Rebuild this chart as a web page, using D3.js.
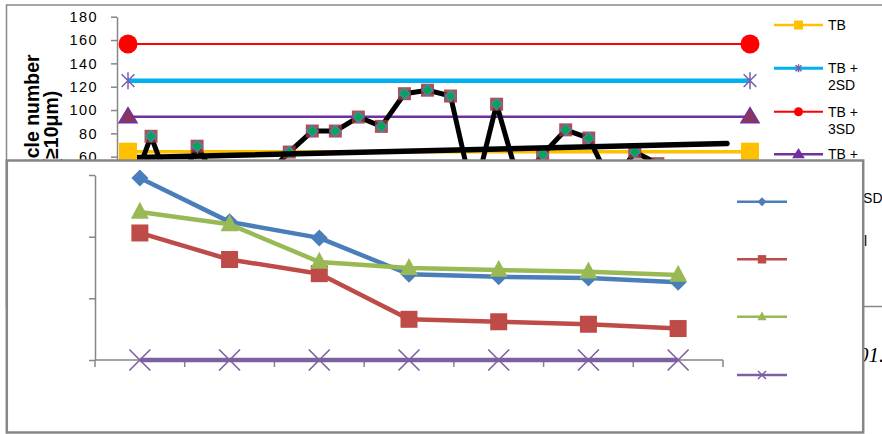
<!DOCTYPE html>
<html><head><meta charset="utf-8">
<script src="https://cdn.jsdelivr.net/npm/d3@7"></script>
<style>body{margin:0;background:#fff}svg{display:block}</style>
</head><body>
<svg id="c" width="882" height="434"></svg>
<script>
// ---- background control chart ----
const bgCategories = [1,2,3,4,5,6,7,8,9,10,11,12,13,14,15,16,17,18,19,20,21,22,23,24,25,26,27,28];
const particleCounts = [25,77.5,25,69,35,35,44,64,82,82,94,86,114,117,112,25,105,36,62,83,76,36,64,54,45,50,40];
const limitNames = ["TB","TB + 2SD","TB + 3SD","TB + 1SD"];
const limitValues = [64.3,125.2,156.6,94.3];
const trendIndex = [0,26];
const trendValues = [59,71.3];
const bgTicks = [0,20,40,60,80,100,120,140,160,180];
const bgTitle = ["Particle number","(≥10μm)"];
const legendLabels = [["TB"],["TB +","2SD"],["TB +","3SD"],["TB +","1SD"],["TB - 1SD"],["Control"]];
const pageText = "01.";

// ---- foreground chart ----
const fgCategories = ["1","2","3","4","5","6","7"];
const seriesBlue = [2.95,2.24,1.98,1.39,1.35,1.33,1.26];
const seriesRed = [2.06,1.63,1.40,0.66,0.62,0.58,0.51];
const seriesGreen = [2.40,2.20,1.59,1.49,1.46,1.43,1.38];
const seriesPurple = [0,0,0,0,0,0,0];
const fgTicks = [0,1,2,3];

const font = "'Liberation Sans', Arial, sans-serif";
const svg = d3.select("#c");
const gray = "#868686";

// shapes
const diamond = r => `M0,${-r}L${r},0L0,${r}L${-r},0Z`;
const square = r => `M${-r},${-r}H${r}V${r}H${-r}Z`;
const triangle = (w,h) => `M0,${-h*0.6}L${w/2},${h*0.4}L${-w/2},${h*0.4}Z`;
const cross = r => `M${-r},${-r}L${r},${r}M${-r},${r}L${r},${-r}`;
const star = r => `M0,${-r}V${r}M${-r*0.75},${-r*0.75}L${r*0.75},${r*0.75}M${-r*0.75},${r*0.75}L${r*0.75},${-r*0.75}`;

// background frame
svg.append("rect").attr("x",6.5).attr("y",5).attr("width",900).attr("height",301.5)
  .attr("fill","#fff").attr("stroke","#888").attr("stroke-width",1.5);

const xb = d3.scalePoint().domain(bgCategories).range([128,750]);
const yb = d3.scaleLinear().domain([0,180]).range([226.7,16.7]);

const bgAxis = svg.append("g").attr("transform","translate(117,0)")
  .call(d3.axisLeft(yb).tickValues(bgTicks).tickSize(6).tickSizeOuter(0).tickPadding(13));
bgAxis.select(".domain").attr("stroke",gray).attr("stroke-width",1.5);
bgAxis.selectAll(".tick line").attr("stroke",gray).attr("stroke-width",1.5);
bgAxis.selectAll(".tick text").attr("font-family",font).attr("font-size",14.5)
  .attr("fill","#000").attr("letter-spacing",1.4);

const title = svg.append("text").attr("transform","translate(39,128) rotate(-90)")
  .attr("text-anchor","middle").attr("font-family",font).attr("font-weight","bold").attr("font-size",19.5);
bgTitle.forEach((t,i)=>title.append("tspan").attr("x",0).attr("dy",i?19:0).text(t));

// limit lines
const limitColors = ["#ffc000","#00b0f0","#ff0000","#7030a0"];
const limitWidths = [3.5,4.5,2,2.5];
const first = bgCategories[0], last = bgCategories[bgCategories.length-1];
limitValues.forEach((v,i)=>{
  svg.append("line").attr("x1",xb(first)).attr("x2",xb(last)).attr("y1",yb(v)).attr("y2",yb(v))
    .attr("stroke",limitColors[i]).attr("stroke-width",limitWidths[i]);
});

// data line
const dataLine = d3.line().x((d,i)=>xb(bgCategories[i])).y(d=>yb(d));
svg.append("path").datum(particleCounts).attr("d",dataLine).attr("fill","none")
  .attr("stroke","#000").attr("stroke-width",5).attr("stroke-linejoin","round");
const pts = svg.append("g").selectAll("g").data(particleCounts).join("g")
  .attr("transform",(d,i)=>`translate(${xb(bgCategories[i])},${yb(d)})`);
pts.append("path").attr("d",square(6.5)).attr("fill","#953735").attr("fill-opacity",0.85);
pts.append("path").attr("d",diamond(5.5)).attr("fill","#00a651").attr("stroke","#4f81bd").attr("stroke-width",1.2);

// trend line
svg.append("line")
  .attr("x1",xb(bgCategories[trendIndex[0]])).attr("y1",yb(trendValues[0]))
  .attr("x2",xb(bgCategories[trendIndex[1]])).attr("y2",yb(trendValues[1]))
  .attr("stroke","#000").attr("stroke-width",5.5).attr("stroke-linecap","round");

// end markers
function limitMarker(g,i,big){
  if(i===0) g.append("path").attr("d",square(big?9:4.5)).attr("fill","#ffc000");
  if(i===1) g.append("path").attr("d",star(big?8.5:4)).attr("stroke","#7b5ea8").attr("stroke-width",1.5).attr("fill","none");
  if(i===2) g.append("circle").attr("r",big?9.5:4.5).attr("fill","#ff0000");
  if(i===3) g.append("path").attr("d",triangle(big?18:10,big?15:8)).attr("fill",big?"#8a3560":"#7030a0").attr("stroke","#7030a0").attr("stroke-width",1.5);
}
limitValues.forEach((v,i)=>{
  [first,last].forEach(c=>{
    const g = svg.append("g").attr("transform",`translate(${xb(c)},${yb(v)})`);
    limitMarker(g,i,true);
  });
});

// background legend
const legY = [25,68.3,111.7,154.3,197.5,240.5];
const legX = [828,828,828,828,825,822];
const legColors = ["#ffc000","#00b0f0","#ff0000","#7030a0","#7030a0","#000"];
const legWidths = [2.5,3,2,2.5,2.5,3];
legendLabels.forEach((lab,i)=>{
  const y = legY[i];
  svg.append("line").attr("x1",774).attr("x2",823).attr("y1",y).attr("y2",y)
    .attr("stroke",legColors[i]).attr("stroke-width",legWidths[i]);
  if(i<4){ const g = svg.append("g").attr("transform",`translate(798.5,${y})`); limitMarker(g,i,false); }
  const t = svg.append("text").attr("x",legX[i]).attr("y",y+5).attr("font-family",font).attr("font-size",14).attr("fill","#000");
  lab.forEach((s,j)=>t.append("tspan").attr("x",legX[i]).attr("dy",j?17:0).text(s));
});

// page text behind
svg.append("text").attr("x",858).attr("y",362).attr("font-family","'Liberation Serif','Times New Roman',serif")
  .attr("font-style","italic").attr("font-size",21).attr("fill","#000").text(pageText);

// ---- foreground chart box ----
svg.append("rect").attr("x",6.8).attr("y",160.5).attr("width",856.4).attr("height",272)
  .attr("fill","#fff").attr("stroke",gray).attr("stroke-width",2.5);

const xf = d3.scaleBand().domain(fgCategories).range([95,723]);
const yf = d3.scaleLinear().domain([0,3]).range([360,175]);
const cx = c => xf(c)+xf.bandwidth()/2;

const fAxis = svg.append("g").attr("transform","translate(95,0)")
  .call(d3.axisLeft(yf).tickValues(fgTicks).tickFormat(()=>"").tickSize(6).tickSizeOuter(0));
fAxis.select(".domain").attr("stroke",gray).attr("stroke-width",1.5);
fAxis.selectAll(".tick line").attr("stroke",gray).attr("stroke-width",1.5);

const xAxisG = svg.append("g");
xAxisG.append("line").attr("x1",xf.range()[0]).attr("x2",xf.range()[1]).attr("y1",yf(0)).attr("y2",yf(0))
  .attr("stroke",gray).attr("stroke-width",1.5);
xAxisG.selectAll("line.tk").data(fgCategories.map(c=>xf(c)).concat([xf.range()[1]])).join("line")
  .attr("class","tk").attr("x1",d=>d).attr("x2",d=>d).attr("y1",yf(0)).attr("y2",yf(0)+7)
  .attr("stroke",gray).attr("stroke-width",1.5);

const fgSeries = [
  {vals:seriesBlue,color:"#4a7ebb",mk:"d"},
  {vals:seriesRed,color:"#be4b48",mk:"s"},
  {vals:seriesGreen,color:"#98b954",mk:"t"},
  {vals:seriesPurple,color:"#7d60a0",mk:"x"}
];
function fgMarker(g,s,big){
  if(s.mk==="d") g.append("path").attr("d",diamond(big?8.5:4.5)).attr("fill",s.color);
  if(s.mk==="s") g.append("path").attr("d",square(big?8.5:4.2)).attr("fill",s.color);
  if(s.mk==="t") g.append("path").attr("d",triangle(big?18:9,big?17:9)).attr("fill",s.color);
  if(s.mk==="x") g.append("path").attr("d",cross(big?10.5:4)).attr("stroke",s.color).attr("stroke-width",big?1.6:1.5).attr("fill","none");
}
const fLine = d3.line().x((d,i)=>cx(fgCategories[i])).y(d=>yf(d));
fgSeries.forEach(s=>{
  svg.append("path").datum(s.vals).attr("d",fLine).attr("fill","none")
    .attr("stroke",s.color).attr("stroke-width",4.5).attr("stroke-linejoin","round");
  s.vals.forEach((v,i)=>{
    const g = svg.append("g").attr("transform",`translate(${cx(fgCategories[i])},${yf(v)})`);
    fgMarker(g,s,true);
  });
});

// foreground legend (no labels visible)
const fLegY = [201.7,259.3,316.7,375];
fgSeries.forEach((s,i)=>{
  svg.append("line").attr("x1",737).attr("x2",787).attr("y1",fLegY[i]).attr("y2",fLegY[i])
    .attr("stroke",s.color).attr("stroke-width",2.5);
  const g = svg.append("g").attr("transform",`translate(762,${fLegY[i]})`);
  fgMarker(g,s,false);
});
</script>
</body></html>
